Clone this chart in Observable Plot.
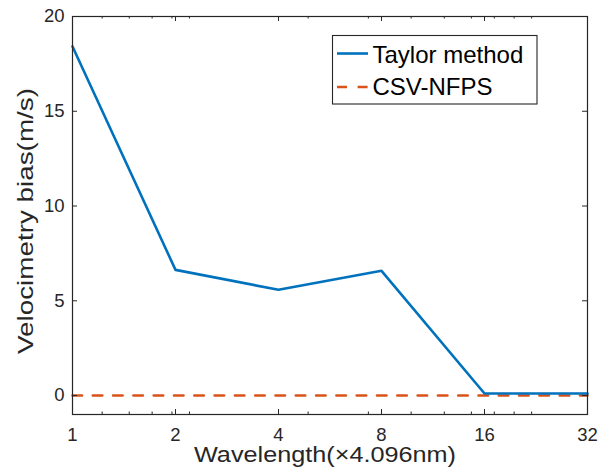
<!DOCTYPE html>
<html>
<head>
<meta charset="utf-8">
<script src="https://cdn.jsdelivr.net/npm/d3@7"></script>
<script src="https://cdn.jsdelivr.net/npm/@observablehq/plot@0.6"></script>
<style>
  html, body { margin: 0; padding: 0; background: #fff; }
  #chart svg { display: block; }
</style>
</head>
<body>
<div id="chart"></div>
<script>
// ---- data ----
const wavelength = [1, 2, 4, 8, 16, 32];
const taylorBias = [18.42, 6.63, 5.58, 6.58, 0.11, 0.11];
const csvBias = [0, 0, 0, 0, 0, 0];
const seriesNames = ["Taylor method", "CSV-NFPS"];
const xTicks = [1, 2, 4, 8, 16, 32];
const xMinorTicks = [1.221, 1.465, 1.709, 1.953, 2.197, 4.883, 7.324, 9.766, 12.207, 14.648, 17.090, 19.531, 21.973];
const yTicks = [0, 5, 10, 15, 20];
const xLabel = "Wavelength(×4.096nm)";
const yLabel = "Velocimetry bias(m/s)";

const blue = "#0072BD", orange = "#D95319", axisColor = "#262626";
const W = 610, H = 472;
const mL = 72, mR = 23, mT = 16, mB = 58;
const pw = W - mL - mR, ph = H - mT - mB;
const font = "'Liberation Sans', Arial, Helvetica, sans-serif";

const taylor = wavelength.map((x, i) => ({x, y: taylorBias[i]}));
const csv = wavelength.map((x, i) => ({x, y: csvBias[i]}));

const majorLen = 5, minorLen = 2.5;

const svg = Plot.plot({
  width: W, height: H,
  marginLeft: mL, marginRight: mR, marginTop: mT, marginBottom: mB,
  style: {fontFamily: font, background: "#fff", color: axisColor, overflow: "visible"},
  x: {type: "log", base: 2, domain: [1, 32], axis: null},
  y: {domain: [-1, 20], axis: null},
  marks: [
    Plot.line(csv, {x: "x", y: "y", stroke: orange, strokeWidth: 2.6, strokeDasharray: "9.5,10.8"}),
    Plot.line(taylor, {x: "x", y: "y", stroke: blue, strokeWidth: 2.6}),
    Plot.frame({stroke: axisColor, strokeWidth: 1.2}),
    // inward tick marks (bottom / top)
    Plot.tickX(xTicks, {x: d => d, stroke: axisColor, insetTop: ph - majorLen}),
    Plot.tickX(xTicks, {x: d => d, stroke: axisColor, insetBottom: ph - majorLen}),
    Plot.tickX(xMinorTicks, {x: d => d, stroke: axisColor, insetTop: ph - minorLen}),
    Plot.tickX(xMinorTicks, {x: d => d, stroke: axisColor, insetBottom: ph - minorLen}),
    // inward tick marks (left / right)
    Plot.tickY(yTicks, {y: d => d, stroke: axisColor, insetRight: pw - majorLen}),
    Plot.tickY(yTicks, {y: d => d, stroke: axisColor, insetLeft: pw - majorLen}),
    // tick labels
    Plot.axisX(xTicks, {tickSize: 0, tickPadding: 13, fontSize: 18.5, tickFormat: d => String(d), label: null, fill: axisColor}),
    Plot.axisY(yTicks, {tickSize: 0, tickPadding: 8, fontSize: 18.5, tickFormat: d => String(d), label: null, fill: axisColor})
  ]
});

document.getElementById("chart").appendChild(svg);

// axis titles
const s = d3.select(svg);
s.append("text")
  .attr("x", 325).attr("y", 462)
  .attr("text-anchor", "middle")
  .attr("font-family", font).attr("font-size", 21.5)
  .attr("fill", axisColor)
  .attr("textLength", 262).attr("lengthAdjust", "spacingAndGlyphs")
  .text(xLabel);
s.append("text")
  .attr("transform", "translate(33,221) rotate(-90)")
  .attr("text-anchor", "middle")
  .attr("font-family", font).attr("font-size", 22)
  .attr("fill", axisColor)
  .attr("textLength", 266).attr("lengthAdjust", "spacingAndGlyphs")
  .text(yLabel);

// legend
const lg = s.append("g");
lg.append("rect")
  .attr("x", 332.5).attr("y", 35.5).attr("width", 204.5).attr("height", 68.5)
  .attr("fill", "#fff").attr("stroke", axisColor).attr("stroke-width", 1.1);
const legendItems = [
  {name: seriesNames[0], color: blue, dash: null, ly: 53.5, ty: 62.5},
  {name: seriesNames[1], color: orange, dash: "10,10.6", ly: 87, ty: 94.5}
];
legendItems.forEach(it => {
  lg.append("line")
    .attr("x1", 337).attr("x2", 368).attr("y1", it.ly).attr("y2", it.ly)
    .attr("stroke", it.color).attr("stroke-width", 2.6)
    .attr("stroke-dasharray", it.dash);
  lg.append("text")
    .attr("x", 372.5).attr("y", it.ty)
    .attr("text-anchor", "start")
    .attr("font-family", font).attr("font-size", 24)
    .attr("fill", "#000")
    .text(it.name);
});
</script>
</body>
</html>
